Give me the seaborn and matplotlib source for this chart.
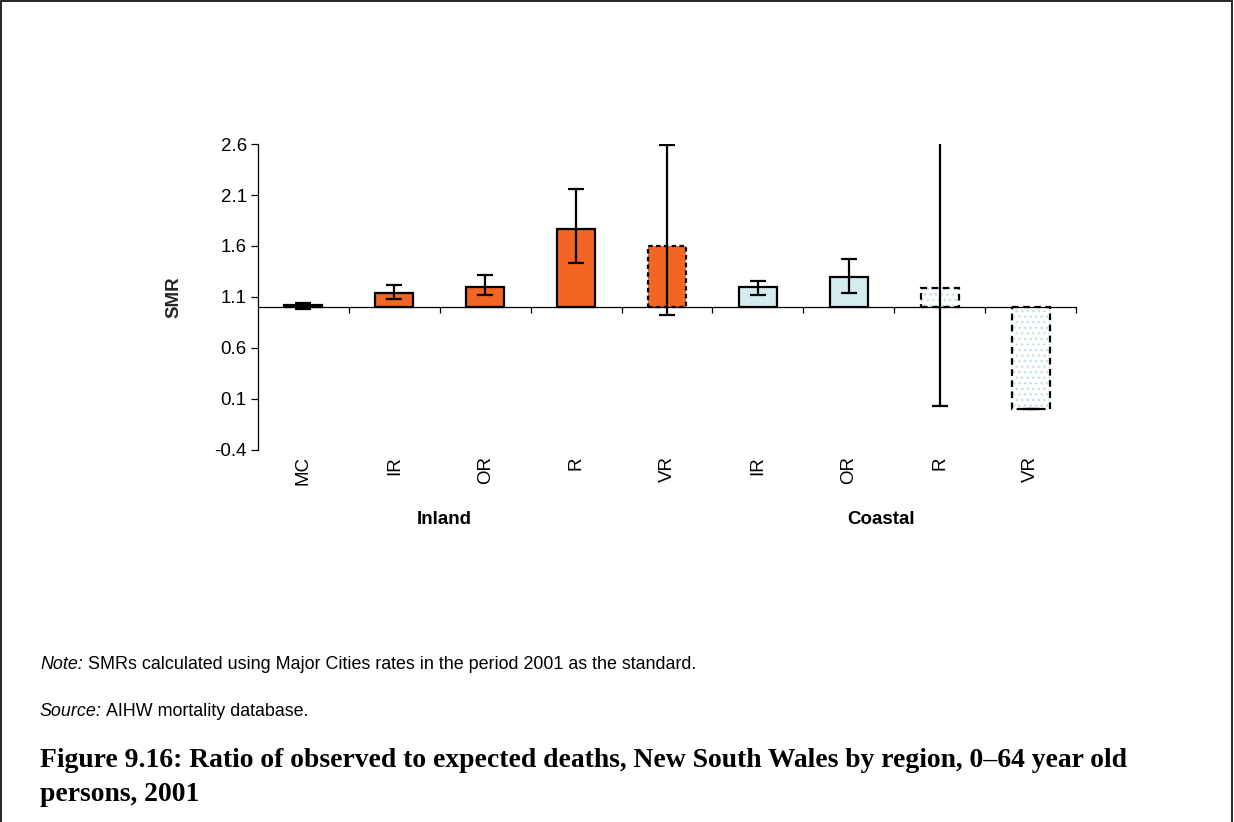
import numpy as np
import pandas as pd
import matplotlib
matplotlib.use("Agg")
import matplotlib.pyplot as plt
from matplotlib.patches import Rectangle
import seaborn as sns

# ---------------- data ----------------
categories = ["MC", "IR", "OR", "R", "VR", "IR", "OR", "R", "VR"]
areas = ["Inland", "Inland", "Inland", "Inland", "Inland",
         "Coastal", "Coastal", "Coastal", "Coastal"]
smr = [1.02, 1.14, 1.20, 1.77, 1.60, 1.20, 1.30, 1.19, 0.00]
ci_low = [0.98, 1.08, 1.115, 1.43, 0.92, 1.12, 1.14, 0.03, 0.00]
ci_high = [1.045, 1.22, 1.32, 2.16, 2.59, 1.26, 1.47, 2.70, 0.00]
y_ticks = [-0.4, 0.1, 0.6, 1.1, 1.6, 2.1, 2.6]
group_labels = ["Inland", "Coastal"]
baseline = 1.0

ORANGE = "#F26522"
LIGHTBLUE = "#D4EBEF"
fill_colors = [ORANGE] * 5 + [LIGHTBLUE] * 4
edge_styles = ["solid", "solid", "solid", "solid", (0, (2, 1.5)),
               "solid", "solid", (0, (3, 2)), (0, (3, 2))]
hatched = [False] * 7 + [True, True]

keys = [f"{a} {c}" for a, c in zip(areas, categories)]
df = pd.DataFrame({"key": keys, "height": np.array(smr) - baseline})

# ---------------- figure ----------------
sns.set_theme(style="white")
plt.rcParams["font.family"] = ["Liberation Sans", "DejaVu Sans"]

fig = plt.figure(figsize=(12.34, 8.22), dpi=100)
ax = fig.add_axes([0.209, 0.4526, 0.663, 0.3722])

# layer 1: fills
sns.barplot(data=df, x="key", y="height", hue="key", palette=fill_colors,
            order=keys, hue_order=keys, width=0.42, bottom=baseline,
            saturation=1, linewidth=0, errorbar=None, legend=False, ax=ax)
fills = list(ax.patches)
for p, h, c in zip(fills, hatched, fill_colors):
    if h:
        p.set_facecolor("white")
        p.set_edgecolor("#C2E2E8")
        p.set_hatch("...")
        p.set_linewidth(0)
    else:
        p.set_facecolor(c)

# layer 2: outlines
n0 = len(ax.patches)
sns.barplot(data=df, x="key", y="height", order=keys, color="black",
            width=0.42, bottom=baseline, fill=False, errorbar=None, ax=ax)
outlines = ax.patches[n0:]
for p, ls in zip(outlines, edge_styles):
    p.set_facecolor("none")
    p.set_edgecolor("black")
    p.set_linewidth(1.6)
    p.set_linestyle(ls)

# error bars
pos = np.arange(len(categories))
yerr = [np.array(smr) - np.array(ci_low), np.array(ci_high) - np.array(smr)]
ax.errorbar(pos, smr, yerr=yerr, fmt="none", ecolor="black",
            elinewidth=1.6, capsize=5.5, capthick=1.6, zorder=5)

# axes styling
ax.set_xlim(-0.5, len(categories) - 0.5)
ax.set_ylim(y_ticks[0], y_ticks[-1])
ax.set_yticks(y_ticks)
ax.set_yticklabels([f"{v:.1f}" for v in y_ticks], fontsize=13.5)
ax.set_xlabel("")
ax.set_ylabel("SMR", fontsize=13.5, fontweight="bold")
ax.yaxis.set_label_coords(-0.092, 0.5)

for s in ["top", "right"]:
    ax.spines[s].set_visible(False)
ax.spines["left"].set_color("black")
ax.spines["left"].set_linewidth(0.9)
ax.spines["bottom"].set_color("black")
ax.spines["bottom"].set_linewidth(0.9)
ax.spines["bottom"].set_position(("data", baseline))

ax.set_xticks(np.arange(len(categories)) + 0.5)
ax.set_xticklabels([])
ax.tick_params(axis="x", bottom=True, length=4, width=0.9, color="black",
               direction="out")
ax.tick_params(axis="y", left=True, length=5, width=0.9, color="black",
               direction="out", pad=3, labelcolor="black")

# category labels below plot area
trans = matplotlib.transforms.blended_transform_factory(ax.transData, ax.transAxes)
for i, c in enumerate(categories):
    ax.text(i, -0.02, c, rotation=90, ha="center", va="top",
            fontsize=13.5, transform=trans, color="black")
ax.text(1.55, -0.2, group_labels[0], ha="center", va="top", fontsize=13.5,
        fontweight="bold", transform=trans, color="black")
ax.text(6.35, -0.2, group_labels[1], ha="center", va="top", fontsize=13.5,
        fontweight="bold", transform=trans, color="black")

# notes
t1 = fig.text(0.0324, 0.191, "Note:", fontsize=12.9, style="italic",
              va="center", ha="left", color="black")
ax.annotate(" SMRs calculated using Major Cities rates in the period 2001 as the standard.",
            xy=(1, 0.5), xycoords=t1, va="center", ha="left", fontsize=12.9,
            color="black", annotation_clip=False)
t2 = fig.text(0.0324, 0.134, "Source:", fontsize=12.9, style="italic",
              va="center", ha="left", color="black")
ax.annotate(" AIHW mortality database.", xy=(1, 0.5), xycoords=t2,
            va="center", ha="left", fontsize=12.9, color="black",
            annotation_clip=False)

title_font = ["Liberation Serif", "DejaVu Serif"]
fig.text(0.0324, 0.0754,
         "Figure 9.16: Ratio of observed to expected deaths, New South Wales by region, 0\u201364 year old",
         fontsize=19.9, fontweight="bold", family=title_font,
         va="center", ha="left", color="black")
fig.text(0.0324, 0.033, "persons, 2001",
         fontsize=19.9, fontweight="bold", family=title_font,
         va="center", ha="left", color="black")

# outer frame (open at bottom)
fig.patches.append(Rectangle((0.001, -0.1), 0.997, 1.0988, fill=False,
                             edgecolor="black", linewidth=1.2,
                             transform=fig.transFigure, figure=fig))

fig.savefig("out.png", dpi=100)
